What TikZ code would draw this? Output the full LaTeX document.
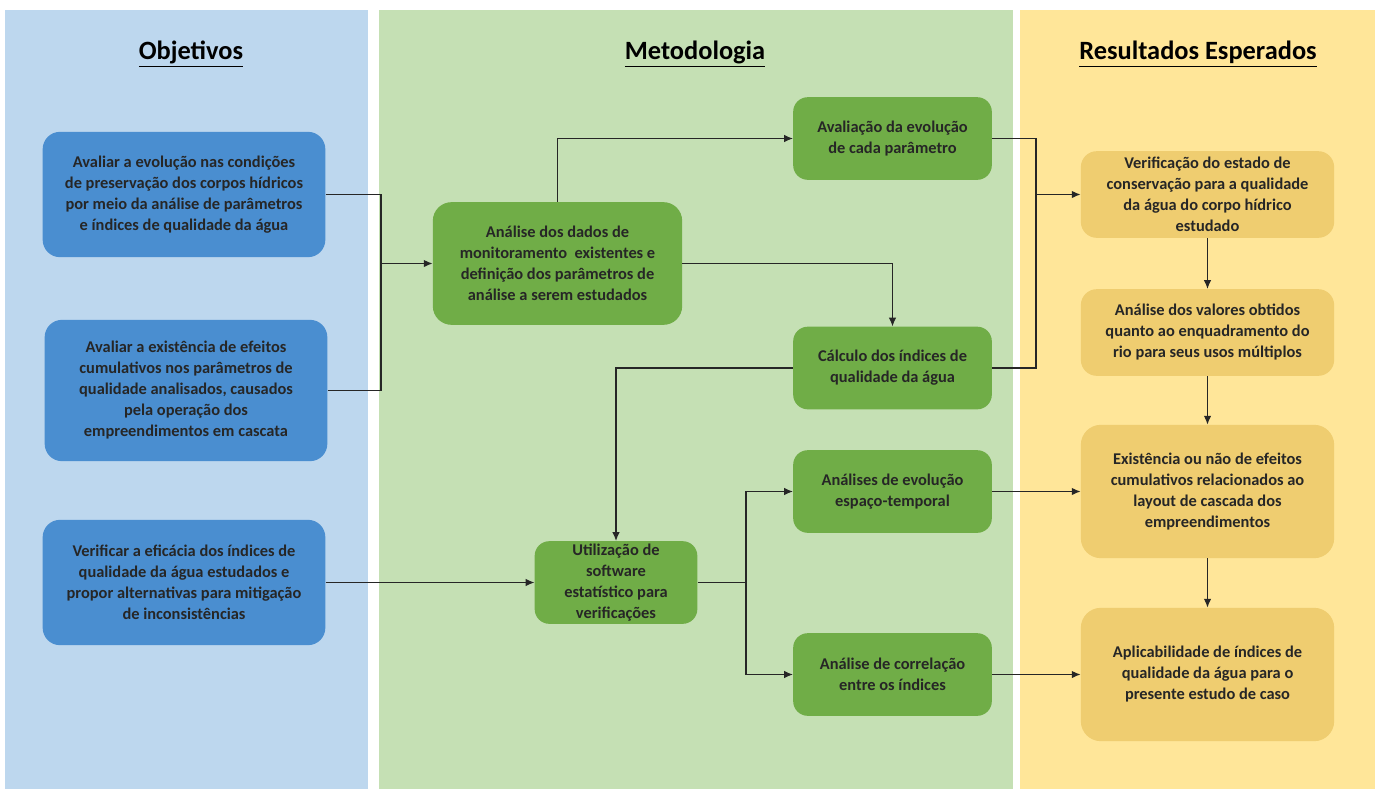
\documentclass[tikz,border=0pt]{standalone}
\usepackage{fontspec}
\setmainfont{Carlito}
\usetikzlibrary{arrows.meta}

\definecolor{panelblue}{HTML}{BDD7EE}
\definecolor{panelgreen}{HTML}{C5E0B4}
\definecolor{panelyellow}{HTML}{FFE699}
\definecolor{boxblue}{HTML}{4A8ED0}
\definecolor{boxgreen}{HTML}{70AD47}
\definecolor{boxyellow}{HTML}{EFCD70}
\definecolor{txtgray}{HTML}{262626}

\tikzset{
  basebox/.style={rounded corners=13pt, align=center, text=txtgray,
    font=\bfseries\fontsize{12.3}{15.75}\selectfont, inner sep=2pt},
  objbox/.style={basebox, fill=boxblue, minimum width=212pt},
  metbox/.style={basebox, fill=boxgreen, rounded corners=11pt},
  resbox/.style={basebox, fill=boxyellow, minimum width=190pt, rounded corners=12pt},
  coltitle/.style={font=\bfseries\fontsize{19.8}{24}\selectfont, text=black},
  link/.style={draw=txtgray, line width=0.8pt},
  arr/.style={link, -{Latex[length=6.5pt,width=5.5pt]}}
}

\begin{document}
\begin{tikzpicture}[x=0.75pt,y=-0.75pt]
\useasboundingbox (0,0) rectangle (1379,789);

% columns
\fill[panelblue] (5,10) rectangle (368,789);
\fill[panelgreen] (379,10) rectangle (1013,789);
\fill[panelyellow] (1020,10) rectangle (1375,789);

\node[coltitle] (tobj) at (191,54) {\underline{Objetivos}};
\node[coltitle] (tmet) at (695,54) {\underline{Metodologia}};
\node[coltitle] (tres) at (1198,54) {\underline{Resultados Esperados}};

% objetivos
\node[objbox, minimum height=94pt] (obj1) at (184,194.5) {Avaliar a evolução nas condições\\de preservação dos corpos hídricos\\por meio da análise de parâmetros\\e índices de qualidade da água};
\node[objbox, minimum height=106pt] (obj2) at (186,390.5) {Avaliar a existência de efeitos\\cumulativos nos parâmetros de\\qualidade analisados, causados\\pela operação dos\\empreendimentos em cascata};
\node[objbox, minimum height=94pt] (obj3) at (184,582.5) {Verificar a eficácia dos índices de\\qualidade da água estudados e\\propor alternativas para mitigação\\de inconsistências};

% metodologia
\node[metbox, minimum width=187pt, minimum height=92pt, rounded corners=14pt] (anA) at (557.5,263.5) {Análise dos dados de\\monitoramento\ \ existentes e\\definição dos parâmetros de\\análise a serem estudados};
\node[metbox, minimum width=149pt, minimum height=62pt] (avB) at (892.5,138.5) {Avaliação da evolução\\de cada parâmetro};
\node[metbox, minimum width=149pt, minimum height=62pt] (calC) at (892.5,368) {Cálculo dos índices de\\qualidade da água};
\node[metbox, minimum width=122pt, minimum height=62pt] (utD) at (616,582.5) {Utilização de\\software\\estatístico para\\verificações};
\node[metbox, minimum width=149pt, minimum height=62pt] (anE) at (892.5,491.5) {Análises de evolução\\espaço-temporal};
\node[metbox, minimum width=149pt, minimum height=62pt] (corF) at (892.5,674.5) {Análise de correlação\\entre os índices};

% resultados
\node[resbox, minimum height=65pt] (verY1) at (1207.5,194.5) {Verificação do estado de\\conservação para a qualidade\\da água do corpo hídrico\\estudado};
\node[resbox, minimum height=65pt] (valY2) at (1207.5,332.5) {Análise dos valores obtidos\\quanto ao enquadramento do\\rio para seus usos múltiplos};
\node[resbox, minimum height=100pt, rounded corners=15pt] (exiY3) at (1207.5,491.5) {Existência ou não de efeitos\\cumulativos relacionados ao\\layout de cascada dos\\empreendimentos};
\node[resbox, minimum height=100pt, rounded corners=15pt] (aplY4) at (1207.5,674.5) {Aplicabilidade de índices de\\qualidade da água para o\\presente estudo de caso};

% connectors
\coordinate (jA) at (381,263.5);
\coordinate (jD) at (746,582.5);
\coordinate (jY) at (1036,194.5);

\draw[link] (obj1.east) -| (jA);
\draw[link] (obj2.east) -| (jA);
\draw[arr] (jA) -- (anA.west);
\draw[arr] (obj3.east) -- (utD.west);
\draw[arr] (anA.north) |- (avB.west);
\draw[arr] (anA.east) -| (calC.north);
\draw[arr] (calC.west) -| (utD.north);
\draw[link] (utD.east) -- (jD);
\draw[arr] (jD) |- (anE.west);
\draw[arr] (jD) |- (corF.west);
\draw[link] (avB.east) -| (jY);
\draw[link] (calC.east) -| (jY);
\draw[arr] (jY) -- (verY1.west);
\draw[arr] (anE.east) -- (exiY3.west);
\draw[arr] (corF.east) -- (aplY4.west);
\draw[arr] (verY1.south) -- (valY2.north);
\draw[arr] (valY2.south) -- (exiY3.north);
\draw[arr] (exiY3.south) -- (aplY4.north);

\end{tikzpicture}
\end{document}
